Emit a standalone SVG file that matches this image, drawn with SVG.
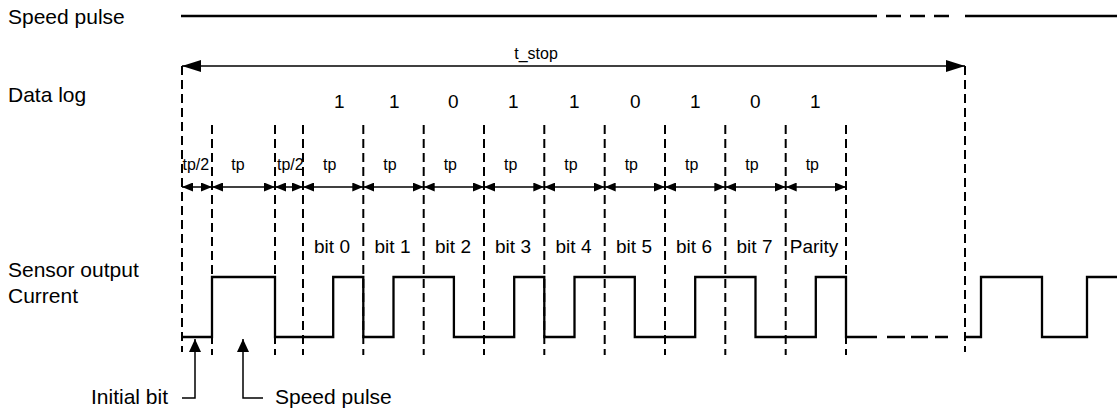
<svg xmlns="http://www.w3.org/2000/svg" width="1117" height="409" viewBox="0 0 1117 409">
<style>
text{font-family:"Liberation Sans",Arial,sans-serif;fill:#000}
.lbl{font-size:21px}
.num{font-size:19px}
.tp{font-size:16px;text-anchor:middle}
.tp2{font-size:16px}
.bit{font-size:19px;text-anchor:middle}
.dash{stroke:#000;stroke-width:2;stroke-dasharray:9,5;fill:none}
.wave{stroke:#000;stroke-width:2.3;fill:none}
.dim{stroke:#000;stroke-width:1.5;fill:none;marker-start:url(#ah);marker-end:url(#ah)}
</style>
<defs>
<marker id="ah" markerUnits="userSpaceOnUse" markerWidth="11" markerHeight="9" refX="11" refY="4.5" orient="auto-start-reverse"><path d="M0,0 L11,4.5 L0,9 z" fill="#000"/></marker>
<marker id="big" markerUnits="userSpaceOnUse" markerWidth="19" markerHeight="12" refX="19" refY="6" orient="auto-start-reverse"><path d="M0,0 L19,6 L0,12 z" fill="#000"/></marker>
<marker id="up" markerUnits="userSpaceOnUse" markerWidth="13" markerHeight="12" refX="13" refY="6" orient="auto"><path d="M0,0 L13,6 L0,12 z" fill="#000"/></marker>
</defs>

<g id="labels">
<text class="lbl" x="8" y="24">Speed pulse</text>
<text class="lbl" x="8" y="102">Data log</text>
<text class="lbl" x="8" y="277">Sensor output</text>
<text class="lbl" x="8" y="303">Current</text>
</g>

<g id="speed-pulse-line" stroke="#000" stroke-width="2.5">
<line x1="181" y1="16" x2="877" y2="16"/>
<line x1="886" y1="16" x2="901" y2="16"/>
<line x1="910" y1="16" x2="925" y2="16"/>
<line x1="934" y1="16" x2="949" y2="16"/>
<line x1="965" y1="16" x2="1117" y2="16"/>
</g>

<g id="t-stop">
<line x1="182" y1="66" x2="965" y2="66" stroke="#000" stroke-width="1.5" marker-start="url(#big)" marker-end="url(#big)"/>
<text x="536" y="59" font-size="16" text-anchor="middle">t_stop</text>
</g>

<g id="data-bits" class="num">
<text x="334" y="108">1</text>
<text x="389" y="108">1</text>
<text x="448" y="108">0</text>
<text x="508" y="108">1</text>
<text x="569" y="108">1</text>
<text x="630" y="108">0</text>
<text x="690" y="108">1</text>
<text x="750" y="108">0</text>
<text x="810" y="108">1</text>
</g>

<g id="gridlines" class="dash">
<line x1="182" y1="66" x2="182" y2="352"/>
<line x1="965" y1="66" x2="965" y2="352"/>
<line x1="212" y1="125" x2="212" y2="355"/>
<line x1="275" y1="125" x2="275" y2="355"/>
<line x1="303" y1="125" x2="303" y2="355"/>
<line x1="363.3" y1="125" x2="363.3" y2="355"/>
<line x1="423.7" y1="125" x2="423.7" y2="355"/>
<line x1="484" y1="125" x2="484" y2="355"/>
<line x1="544.3" y1="125" x2="544.3" y2="355"/>
<line x1="604.7" y1="125" x2="604.7" y2="355"/>
<line x1="665" y1="125" x2="665" y2="355"/>
<line x1="725.3" y1="125" x2="725.3" y2="355"/>
<line x1="785.7" y1="125" x2="785.7" y2="355"/>
<line x1="846" y1="125" x2="846" y2="355"/>
</g>

<g id="tp-dimensions">
<line class="dim" x1="182" y1="187" x2="212" y2="187"/>
<line class="dim" x1="212" y1="187" x2="275" y2="187"/>
<line class="dim" x1="275" y1="187" x2="303" y2="187"/>
<line class="dim" x1="303" y1="187" x2="363.3" y2="187"/>
<line class="dim" x1="363.3" y1="187" x2="423.7" y2="187"/>
<line class="dim" x1="423.7" y1="187" x2="484" y2="187"/>
<line class="dim" x1="484" y1="187" x2="544.3" y2="187"/>
<line class="dim" x1="544.3" y1="187" x2="604.7" y2="187"/>
<line class="dim" x1="604.7" y1="187" x2="665" y2="187"/>
<line class="dim" x1="665" y1="187" x2="725.3" y2="187"/>
<line class="dim" x1="725.3" y1="187" x2="785.7" y2="187"/>
<line class="dim" x1="785.7" y1="187" x2="846" y2="187"/>
<text class="tp2" x="182.5" y="170">tp/2</text>
<text class="tp2" x="277" y="170">tp/2</text>
<text class="tp" x="238" y="170">tp</text>
<text class="tp" x="329.7" y="170">tp</text>
<text class="tp" x="390" y="170">tp</text>
<text class="tp" x="450.3" y="170">tp</text>
<text class="tp" x="510.7" y="170">tp</text>
<text class="tp" x="571" y="170">tp</text>
<text class="tp" x="631.3" y="170">tp</text>
<text class="tp" x="691.7" y="170">tp</text>
<text class="tp" x="752" y="170">tp</text>
<text class="tp" x="812.3" y="170">tp</text>
</g>

<g id="bit-labels" class="bit">
<text x="332" y="253">bit 0</text>
<text x="392.5" y="253">bit 1</text>
<text x="453" y="253">bit 2</text>
<text x="513" y="253">bit 3</text>
<text x="573.5" y="253">bit 4</text>
<text x="634" y="253">bit 5</text>
<text x="694" y="253">bit 6</text>
<text x="754.5" y="253">bit 7</text>
<text x="814" y="253">Parity</text>
</g>

<g id="sensor-waveform" class="wave">
<path d="M182,337 H212 V277 H275 V337 H333.2 V277 H363.3 V337 H393.5 V277 H453.9 V337 H514.2 V277 H544.3 V337 H574.5 V277 H634.8 V337 H695.2 V277 H755.5 V337 H815.8 V277 H846 V337 H877"/>
<path d="M887,337 H905 M911,337 H928 M935,337 H948"/>
<path d="M965,337 H981 V277 H1042 V337 H1087 V277 H1117"/>
</g>

<g id="callouts">
<path d="M182,398 H195 V339" stroke="#000" stroke-width="1.5" fill="none" marker-end="url(#up)"/>
<path d="M263,398 H243 V339" stroke="#000" stroke-width="1.5" fill="none" marker-end="url(#up)"/>
<text class="lbl" x="168" y="404" text-anchor="end">Initial bit</text>
<text class="lbl" x="275" y="404">Speed pulse</text>
</g>
</svg>
